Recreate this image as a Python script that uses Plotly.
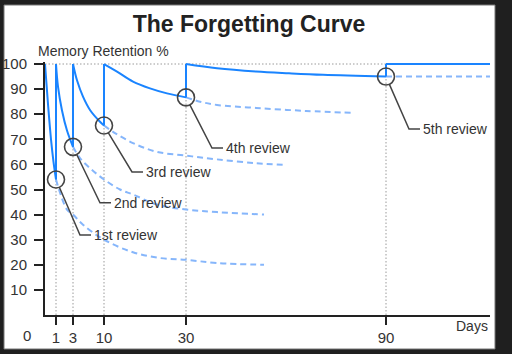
import math
import plotly.graph_objects as go

# ---------------- data (timeline position units, retention %) ----------------
review_pos = [11, 28, 59, 141, 341]
review_labels = ["1", "3", "10", "30", "90"]
review_names = ["1st review", "2nd review", "3rd review", "4th review", "5th review"]
y_ticks = [10, 20, 30, 40, 50, 60, 70, 80, 90, 100]

# solid forgetting curve segments (after each review retention resets to 100)
s1_x = [0, 3, 6, 8.5, 11]
s1_y = [100, 84, 70, 61, 54]
s2_x = [11, 13, 17, 22, 28]
s2_y = [100, 91, 81.5, 73.5, 67]
s3_x = [28, 32, 38, 45, 55, 59]
s3_y = [100, 93.5, 87, 81.7, 77, 75.5]
s4_x = [59, 72, 88, 105, 122, 141]
s4_y = [100, 97, 93, 90.3, 88.3, 86.7]
s5_x = [141, 172, 211, 244, 278, 341]
s5_y = [100, 98.3, 97, 96.3, 95.7, 95]
s6_x = [341, 445]
s6_y = [100, 100]

# dashed: what would happen without the review
d1_x = [11, 22, 28, 38, 59, 88, 115, 141, 172, 219]
d1_y = [54, 42, 40, 36, 30, 25, 22.7, 22, 20.7, 20]
d2_x = [28, 35, 45, 59, 75, 88, 112, 141, 172, 219]
d2_y = [67, 62.5, 58.5, 54, 50, 48, 44, 42, 41, 40]
d3_x = [59, 70, 88, 112, 141, 172, 211, 240]
d3_y = [75.5, 72.5, 68.5, 65, 63.5, 62, 60.5, 59.8]
d4_x = [141, 155, 172, 211, 261, 309]
d4_y = [86.7, 85, 83.7, 82.5, 81.3, 80.5]
d5_x = [341, 445]
d5_y = [95, 95]

review_ret = [54, 67, 75.5, 86.7, 95]

# ---------------- style / layout constants ----------------
W, H = 512, 354
ML, MR, MT, MB = 45, 22, 62, 39
XR = [0, 445]
YR = [0, 100.8]
PW, PH = W - ML - MR, H - MT - MB
px_x = PW / (XR[1] - XR[0])
px_y = PH / (YR[1] - YR[0])
FONT = "Liberation Sans, Arial, Helvetica, sans-serif"
BLUE = "#1a84ff"
LIGHT = "#86b6fb"
INK = "#333333"
# callout elbow offsets (px) from circle centre
callout_off = [(24, 55.5), (27, 56), (28, 46.5), (26, 50.6), (23, 52.5)]
HSEG = 11
RAD = 8.5


def paper_x(px):
    return (px - ML) / PW


def paper_y(py):
    return ((H - MB) - py) / PH


fig = go.Figure()

# dotted guides
gx, gy = [], []
for p in review_pos:
    gx += [p, p, None]
    gy += [0, 100, None]
gx += [0, review_pos[-1]]
gy += [100, 100]
fig.add_trace(go.Scatter(x=gx, y=gy, mode="lines",
                         line=dict(color="#9a9a9a", width=1, dash="1.5px,2px"),
                         hoverinfo="skip"))

# dashed projections
for dx, dy in [(d1_x, d1_y), (d2_x, d2_y), (d3_x, d3_y), (d4_x, d4_y), (d5_x, d5_y)]:
    fig.add_trace(go.Scatter(x=dx, y=dy, mode="lines", line_shape="spline",
                             line=dict(color=LIGHT, width=2, dash="6px,4px")))

# solid curve segments
for sx, sy in [(s1_x, s1_y), (s2_x, s2_y), (s3_x, s3_y), (s4_x, s4_y), (s5_x, s5_y), (s6_x, s6_y)]:
    fig.add_trace(go.Scatter(x=sx, y=sy, mode="lines", line_shape="spline",
                             line=dict(color=BLUE, width=2)))
# jumps at each review
jx, jy = [], []
for p, r in zip(review_pos, review_ret):
    jx += [p, p, None]
    jy += [r, 100, None]
fig.add_trace(go.Scatter(x=jx, y=jy, mode="lines", line=dict(color=BLUE, width=2)))

# leader lines
lx, ly = [], []
annotations = []
for p, r, (ox, oy), name in zip(review_pos, review_ret, callout_off, review_names):
    d = math.hypot(ox, oy)
    sx0 = p + RAD * ox / d / px_x
    sy0 = r - RAD * oy / d / px_y
    ex = p + ox / px_x
    ey = r - oy / px_y
    hx = ex + HSEG / px_x
    lx += [sx0, ex, hx, None]
    ly += [sy0, ey, ey, None]
    annotations.append(dict(x=hx + 1 / px_x, y=ey, xref="x", yref="y", text=name,
                            showarrow=False, xanchor="left", yanchor="middle",
                            font=dict(family=FONT, size=14, color=INK)))
fig.add_trace(go.Scatter(x=lx, y=ly, mode="lines", line=dict(color="#444444", width=1.5)))

# review circles
fig.add_trace(go.Scatter(x=review_pos, y=review_ret, mode="markers", cliponaxis=False,
                         marker=dict(symbol="circle-open", size=17, color="#444444",
                                     line=dict(width=1.6))))

annotations += [
    dict(x=paper_x(36), y=paper_y(51), xref="paper", yref="paper", text="Memory Retention %",
         showarrow=False, xanchor="left", yanchor="middle",
         font=dict(family=FONT, size=14, color=INK)),
    dict(x=paper_x(490), y=paper_y(326), xref="paper", yref="paper", text="Days",
         showarrow=False, xanchor="right", yanchor="middle",
         font=dict(family=FONT, size=14, color=INK)),
    dict(x=paper_x(27), y=paper_y(335), xref="paper", yref="paper", text="0",
         showarrow=False, xanchor="center", yanchor="middle",
         font=dict(family=FONT, size=15, color=INK)),
]

fig.update_layout(
    width=W, height=H,
    margin=dict(l=ML, r=MR, t=MT, b=MB, pad=0, autoexpand=False),
    paper_bgcolor="#1f1f1f", plot_bgcolor="white",
    showlegend=False,
    title=dict(text="The Forgetting Curve", x=249 / W, xanchor="center",
               y=1 - 24 / H, yanchor="middle", yref="container",
               font=dict(family=FONT, size=23, color="#222222", weight="bold")),
    annotations=annotations,
    shapes=[dict(type="rect", xref="paper", yref="paper", layer="below",
                 x0=paper_x(4), x1=paper_x(495), y0=paper_y(349), y1=paper_y(5),
                 fillcolor="white", line=dict(color="#777777", width=1))],
)
fig.update_xaxes(range=XR, tickvals=review_pos, ticktext=review_labels, automargin=False,
                 showline=True, linecolor="#222222", linewidth=2, showgrid=False,
                 zeroline=False, ticks="outside", ticklen=8, tickwidth=2, tickcolor="#222222",
                 tickfont=dict(family=FONT, size=15, color=INK))
fig.update_yaxes(range=YR, tickvals=y_ticks, showline=True, linecolor="#222222",
                 linewidth=2, showgrid=False, zeroline=False, ticks="outside", ticklen=9,
                 tickwidth=2, tickcolor="#222222", ticklabelstandoff=4, automargin=False,
                 tickfont=dict(family=FONT, size=15, color=INK))

fig.write_html("out.html")
